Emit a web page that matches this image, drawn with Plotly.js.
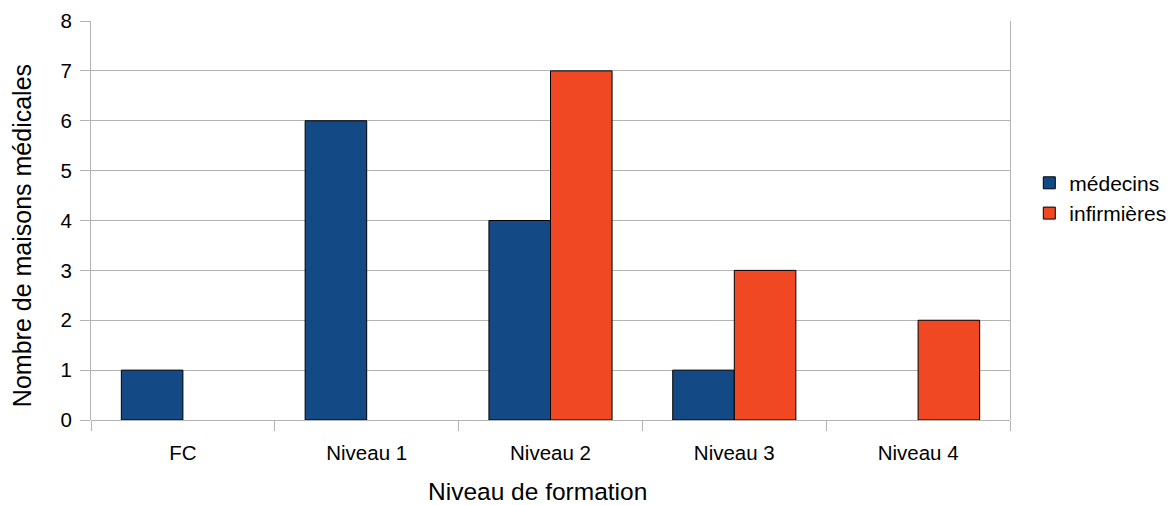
<!DOCTYPE html>
<html><head><meta charset="utf-8">
<script src="https://cdn.plot.ly/plotly-3.0.1.min.js"></script>
<style>body{margin:0;background:#fff}#c{width:1172px;height:505px}</style>
</head><body><div id="c"></div>
<script>
const categories = ["FC", "Niveau 1", "Niveau 2", "Niveau 3", "Niveau 4"];
const medecins = [1, 6, 4, 1, 0];
const infirmieres = [0, 0, 7, 3, 2];
const seriesNames = ["médecins", "infirmières"];
const xTitle = "Niveau de formation";
const yTitle = "Nombre de maisons médicales";

const font = "Liberation Sans, Arial, sans-serif";
const hideZero = a => a.map(v => v === 0 ? null : v);
const traces = [
  {type:"bar", name:seriesNames[0], x:categories, y:hideZero(medecins),
   marker:{color:"#134a86", line:{color:"#000", width:1}}},
  {type:"bar", name:seriesNames[1], x:categories, y:hideZero(infirmieres),
   marker:{color:"#f04823", line:{color:"#000", width:1}}}
];
const layout = {
  width:1172, height:505,
  margin:{l:91, r:162, t:21, b:85, autoexpand:false},
  paper_bgcolor:"#fff", plot_bgcolor:"#fff",
  font:{family:font, color:"#000", size:20.5},
  barmode:"group", bargap:0.33, bargroupgap:0,
  showlegend:true,
  legend:{x:1.021, y:0.556, yanchor:"middle", xanchor:"left", font:{size:21}, tracegroupgap:8},
  xaxis:{tickson:"boundaries", ticks:"outside", ticklen:10, tickcolor:"#b3b3b3",
         ticklabelstandoff:18,
         showgrid:false, showline:false, zeroline:false},
  yaxis:{range:[0,8], dtick:1, ticks:"outside", ticklen:10, tickcolor:"#b3b3b3",
         ticklabelstandoff:4,
         gridcolor:"#b3b3b3", gridwidth:1, showline:true, linecolor:"#b3b3b3", mirror:true,
         zeroline:true, zerolinecolor:"#b3b3b3", zerolinewidth:1},
  annotations:[
    {text:xTitle, xref:"paper", yref:"paper", x:0.486, y:-0.178, xanchor:"center", yanchor:"middle",
     showarrow:false, borderpad:0, font:{size:24.5}},
    {text:yTitle, xref:"paper", yref:"paper", x:-0.075, y:0.461, xanchor:"center", yanchor:"middle",
     textangle:-90, showarrow:false, borderpad:0, font:{size:25}}
  ]
};
Plotly.newPlot("c", traces, layout, {displayModeBar:false});
</script></body></html>
